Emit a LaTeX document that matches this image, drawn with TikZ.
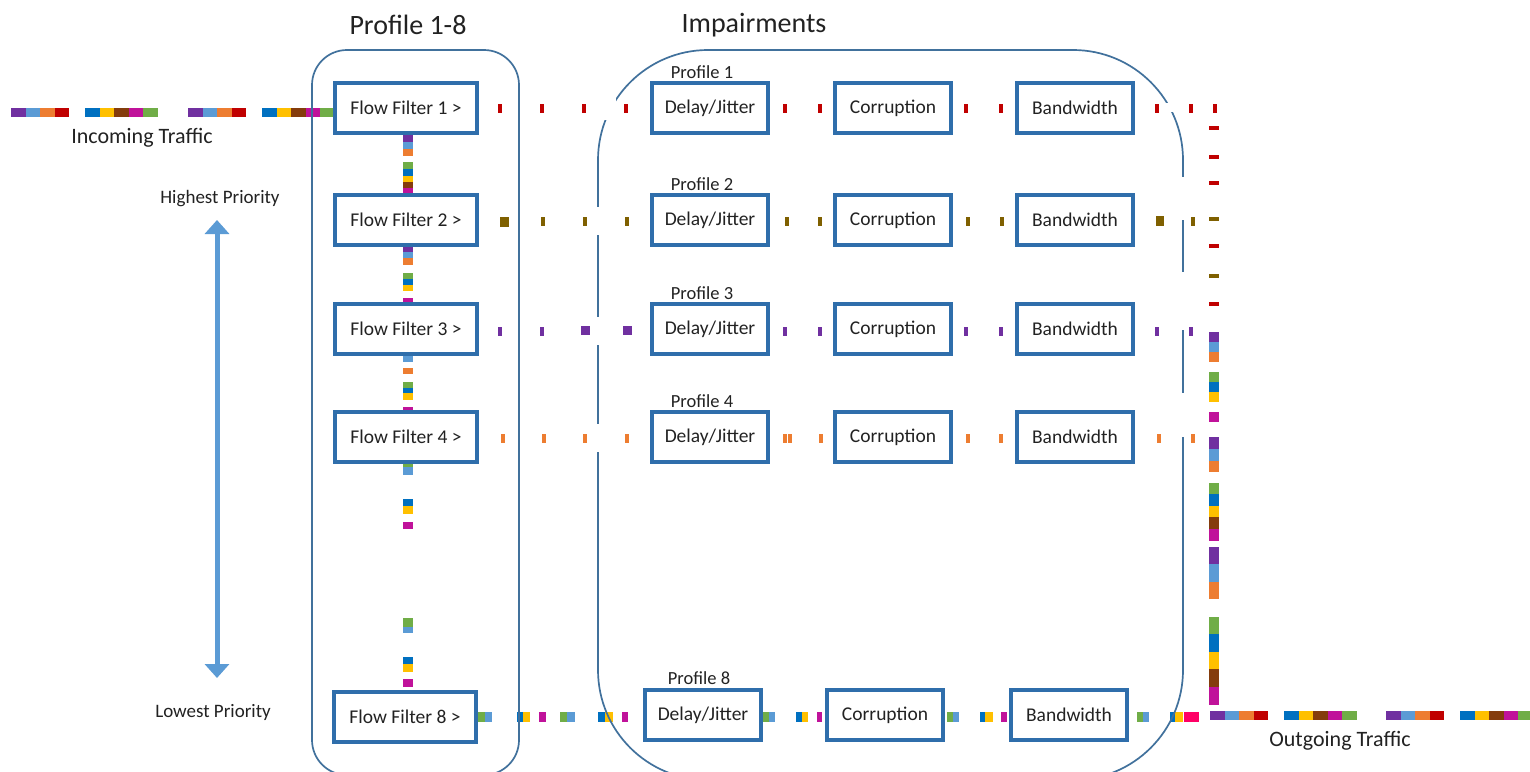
\documentclass[tikz,border=0pt]{standalone}
\usepackage{fontspec}
\setmainfont{Carlito}
\usepackage{tikz}
\usetikzlibrary{arrows.meta, positioning}
\definecolor{boxblue}{HTML}{2F6EAB}
\definecolor{framegray}{HTML}{41719C}
\definecolor{arrowblue}{HTML}{5B9BD5}
\definecolor{inktext}{HTML}{222222}
\definecolor{pktpurple}{HTML}{7030A0}
\definecolor{pktlblue}{HTML}{5B9BD5}
\definecolor{pktorange}{HTML}{ED7D31}
\definecolor{pktred}{HTML}{C00000}
\definecolor{pktblue}{HTML}{0070C0}
\definecolor{pktyellow}{HTML}{FFC000}
\definecolor{pktbrown}{HTML}{843C0C}
\definecolor{pktmagenta}{HTML}{C0129A}
\definecolor{pktgreen}{HTML}{70AD47}
\definecolor{pktolive}{HTML}{7F6000}
\definecolor{pktpink}{HTML}{FF0066}

% one burst of traffic: 4 packets, gap, 5 packets
\newcommand{\trafficrun}[2]{%
  \foreach \c [count=\i from 0] in {pktpurple,pktlblue,pktorange,pktred}
    \fill[\c] ({#1+\i*14.6},{#2-4.5}) rectangle ++(14.6,9);
  \foreach \c [count=\i from 0] in {pktblue,pktyellow,pktbrown,pktmagenta,pktgreen}
    \fill[\c] ({#1+74+\i*14.6},{#2-4.5}) rectangle ++(14.6,9);
}
% thin dashes along a profile row: colour, y, x list
\newcommand{\dashrow}[3]{%
  \foreach \x in {#3}
    \fill[#1] ({\x-2},{#2-4.5}) rectangle ({\x+2},{#2+4.5});
}
% packets stacked in a column: x centre, colour/top/bottom list
\newcommand{\colpkts}[2]{%
  \foreach \c/\a/\b in {#2}
    \fill[\c] ({#1-4.8},\a) rectangle ({#1+4.8},\b);
}

\begin{document}
\begin{tikzpicture}[x=1pt, y=-1pt, >=Stealth,
    fbox/.style={draw=boxblue, line width=3.2pt, fill=white, text=inktext,
      minimum width=142pt, minimum height=50pt, inner sep=0pt,
      font=\fontsize{19.5}{22}\selectfont},
    ibox/.style={fbox, minimum width=116pt},
    plabel/.style={text=inktext, font=\fontsize{18.5}{21}\selectfont},
    title/.style={text=inktext, font=\fontsize{28}{32}\selectfont},
    trafficlbl/.style={text=inktext, font=\fontsize{22}{26}\selectfont},
    priolbl/.style={text=inktext, font=\fontsize{19}{22}\selectfont},
    frame/.style={draw=framegray, line width=1.7pt},
    gap/.style={fill=white},
    prio/.style={arrowblue, line width=5pt,
      {Triangle[width=24pt,length=14pt]}-{Triangle[width=24pt,length=14pt]}}]

    \useasboundingbox (0,0) rectangle (1530,771);
    \fill[white] (0,0) rectangle (1530,771);

    % Titles
    \node[title] (ttlprof) at (408,25) {Profile 1-8};
    \node[title] (ttlimp) at (754,25) {Impairments};

    % Incoming and outgoing traffic
    \trafficrun{11}{112}
    \trafficrun{188}{112}
    \trafficrun{1210}{715}
    \trafficrun{1386}{715}
    \node[trafficlbl] (inlbl) at (142,138) {Incoming Traffic};
    \node[trafficlbl] (outlbl) at (1340,741) {Outgoing Traffic};

    % Priority scale
    \node[priolbl] (hiprio) at (220,199) {Highest Priority};
    \node[priolbl] (loprio) at (213,712) {Lowest Priority};
    \coordinate (hitip) at (217,220);
    \coordinate (lotip) at (217,678);
    \draw[prio] (hitip) -- (lotip);

    % Packets falling through the flow filters
    \colpkts{408}{pktpurple/135/142, pktlblue/142/149, pktorange/149/156,
      pktgreen/162/169, pktblue/169/176, pktyellow/176/182, pktbrown/182/188,
      pktmagenta/188/194, pktpurple/246/252, pktlblue/252/258, pktorange/258/265,
      pktgreen/273/279, pktblue/279/285, pktyellow/285/291, pktmagenta/298/304,
      pktlblue/356/362, pktorange/368/374, pktgreen/382/388, pktblue/388/393,
      pktyellow/393/400, pktmagenta/407/413, pktgreen/461/467, pktlblue/467/475,
      pktblue/499/506, pktyellow/506/514, pktmagenta/522/529, pktgreen/618/627,
      pktlblue/627/633, pktblue/657/664, pktyellow/664/672, pktmagenta/679/687}

    % Profile rows 1-4
    \dashrow{pktred}{108}{500,542,584,626,785,820,966,1001,1157,1191,1215}
    \dashrow{pktolive}{221}{543,585,627,787,820,968,1002,1193}
    \fill[pktolive] (500,217) rectangle (509,227);
    \fill[pktolive] (1156,216) rectangle (1164,226);
    \dashrow{pktpurple}{331}{500,542,785,820,966,1001,1157,1191}
    \fill[pktpurple] (581,326) rectangle (590,335);
    \fill[pktpurple] (623,326) rectangle (632,335);
    \dashrow{pktorange}{438}{503,544,585,627,785,790,821,968,1001,1159,1193}

    % Profile 8 row
    \foreach \c/\a/\b in {pktgreen/478/485, pktlblue/485/492, pktblue/517/523,
      pktyellow/523/530, pktmagenta/539/546, pktgreen/560/567, pktlblue/567/575,
      pktblue/598/605, pktyellow/605/613, pktmagenta/622/628, pktgreen/763/769,
      pktlblue/769/775, pktblue/796/802, pktyellow/802/808, pktmagenta/817/822,
      pktgreen/947/953, pktlblue/953/959, pktblue/980/985, pktyellow/985/993,
      pktmagenta/1001/1007, pktgreen/1137/1143, pktlblue/1143/1149,
      pktblue/1170/1175, pktyellow/1175/1183, pktpink/1184/1199}
      \fill[\c] (\a,712) rectangle (\b,722);

    % Merged output column
    \foreach \y in {128,157,183,246,304}
      \fill[pktred] (1209,\y-2) rectangle (1219,\y+2);
    \foreach \y in {219,276}
      \fill[pktolive] (1209,\y-2) rectangle (1219,\y+2);
    \colpkts{1214}{pktpurple/332/342, pktlblue/342/352, pktorange/352/362,
      pktgreen/372/382, pktblue/382/392, pktyellow/392/402, pktmagenta/412/422,
      pktpurple/437/449, pktlblue/449/461, pktorange/461/472, pktgreen/483/494,
      pktblue/494/506, pktyellow/506/517, pktbrown/517/529, pktmagenta/529/541,
      pktpurple/547/564, pktlblue/564/582, pktorange/582/599, pktgreen/617/634,
      pktblue/634/652, pktyellow/652/669, pktbrown/669/687, pktmagenta/687/705}

    % Containers
    \draw[frame, rounded corners=35pt] (312,50) rectangle (519,775);
    \draw[frame, rounded corners=110pt] (598,50) rectangle (1183,780);
    \fill[gap] (596,96) rectangle (616,120);
    \fill[gap] (592,207) rectangle (604,235);
    \fill[gap] (592,317) rectangle (604,345);
    \fill[gap] (592,424) rectangle (604,452);
    \fill[gap] (1166,103) rectangle (1181,112);
    \fill[gap] (1177,177) rectangle (1189,220);
    \fill[gap] (1177,272) rectangle (1189,330);
    \fill[gap] (1177,393) rectangle (1189,437);

    % Flow filters and impairments, rows 1-4
    \foreach \r/\y in {1/108,2/220,3/329,4/437} {
      \node[fbox] (ff\r) at (406,\y) {Flow Filter \r\ >};
      \node[ibox] (dj\r) at (710,\y) {Delay/Jitter};
      \node[ibox] (co\r) at (893,\y) {Corruption};
      \node[ibox] (bw\r) at (1075,\y) {Bandwidth};
      \node[plabel] (pl\r) at (702,\y-36) {Profile \r};
    }

    % Row 8
    \node[fbox] (ff8) at (405,717) {Flow Filter 8 >};
    \node[ibox] (dj8) at (703,715) {Delay/Jitter};
    \node[ibox] (co8) at (885,715) {Corruption};
    \node[ibox] (bw8) at (1069,715) {Bandwidth};
    \node[plabel] (pl8) at (699,678) {Profile 8};
\end{tikzpicture}
\end{document}
